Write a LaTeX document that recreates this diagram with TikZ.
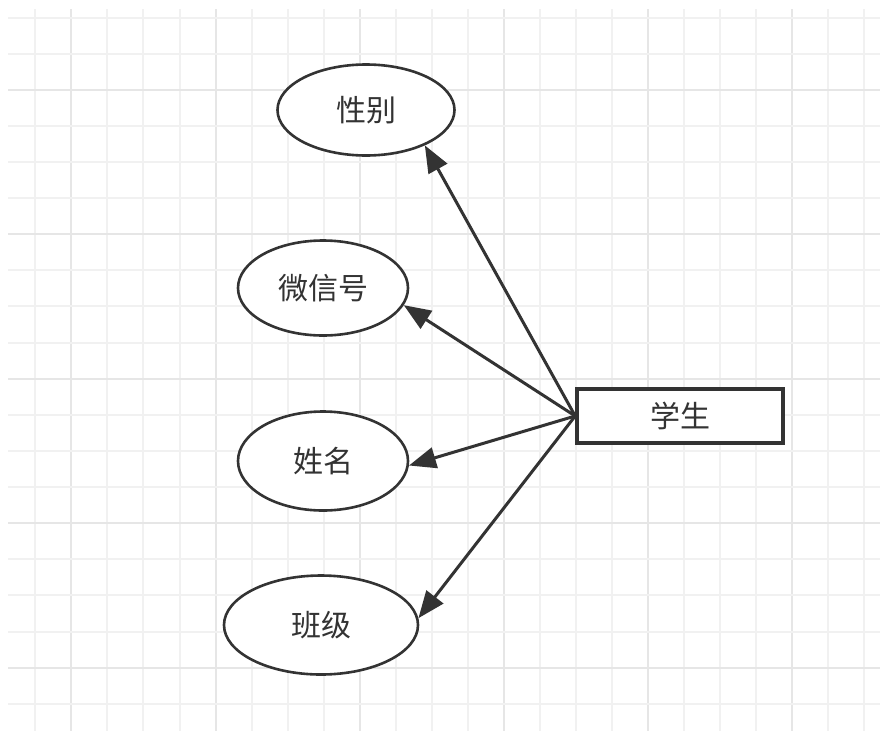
\documentclass[tikz,border=0pt]{standalone}
\usepackage{fontspec}
\newfontfamily\cjk{Noto Sans CJK SC}
\usetikzlibrary{shapes.geometric,arrows.meta}
\definecolor{ink}{HTML}{333333}
\definecolor{gridminor}{HTML}{F1F1F1}
\definecolor{gridmajor}{HTML}{E6E6E6}
\newcommand{\lbl}[1]{\raisebox{-3pt}{#1}}
\tikzset{
  attr/.style={ellipse, draw=ink, line width=2.6pt, fill=white, inner sep=0pt,
    font=\cjk\fontsize{30}{34}\selectfont, text=ink},
  entity/.style={rectangle, draw=ink, line width=3.6pt, fill=white, inner sep=0pt,
    minimum width=206pt, minimum height=54pt,
    font=\cjk\fontsize{30}{34}\selectfont, text=ink},
  link/.style={draw=ink, line width=3pt, -{Triangle[length=27pt,width=21pt]}},
}
\begin{document}
\begin{tikzpicture}[x=1pt,y=-1pt]
  \useasboundingbox (0,0) rectangle (880,731);
  \fill[white] (0,0) rectangle (880,731);
  % background grid: minor lines, every fourth one darker
  \begin{scope}
    \clip (8,9) rectangle (880,731);
    \foreach \k in {0,...,23} {
      \pgfmathsetmacro{\gx}{35.3+36.05*\k}
      \pgfmathtruncatemacro{\m}{mod(\k,4)}
      \ifnum\m=1
        \draw[gridmajor, line width=2pt] (\gx,9) -- (\gx,731);
      \else
        \draw[gridminor, line width=2pt] (\gx,9) -- (\gx,731);
      \fi
    }
    \foreach \k in {0,...,19} {
      \pgfmathsetmacro{\gy}{17.5+36.12*\k}
      \pgfmathtruncatemacro{\m}{mod(\k,4)}
      \ifnum\m=2
        \draw[gridmajor, line width=2pt] (8,\gy) -- (880,\gy);
      \else
        \draw[gridminor, line width=2pt] (8,\gy) -- (880,\gy);
      \fi
    }
  \end{scope}

  % entity and its attributes
  \node[entity] (student) at (680,416) {\lbl{学生}};
  \node[attr, minimum width=177pt, minimum height=91pt] (gender) at (366,110) {\lbl{性别}};
  \node[attr, minimum width=170pt, minimum height=95pt] (wechat) at (323,288) {\lbl{微信号}};
  \node[attr, minimum width=170pt, minimum height=99pt] (name)   at (323,461) {\lbl{姓名}};
  \node[attr, minimum width=194pt, minimum height=99pt] (class)  at (321,625) {\lbl{班级}};

  % links from the entity to each attribute
  \draw[link] (student.west) -- (gender.-31);
  \draw[link] (student.west) -- (wechat.-12);
  \draw[link] (student.west) -- (name.-3);
  \draw[link] (student.west) -- (class.4);
\end{tikzpicture}
\end{document}
